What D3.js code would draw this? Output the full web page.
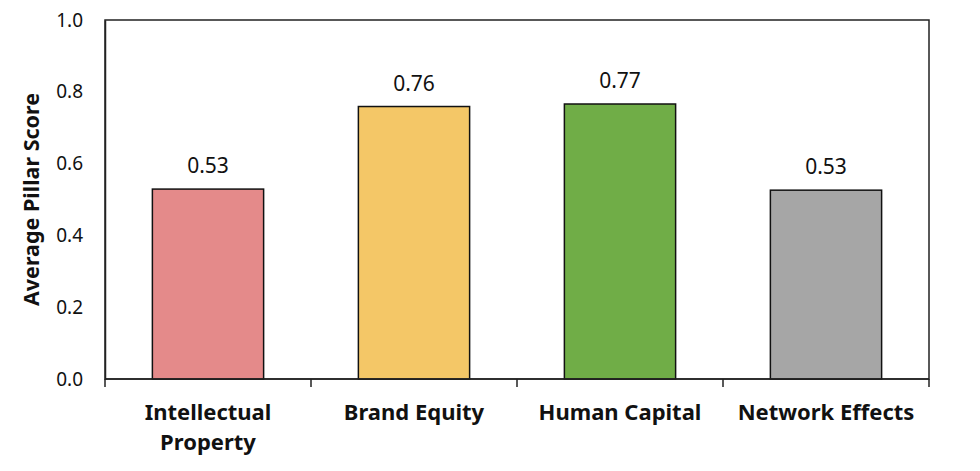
<!DOCTYPE html>
<html><head><meta charset="utf-8">
<script src="https://cdn.jsdelivr.net/npm/d3@7/dist/d3.min.js"></script>
<style>body{margin:0;background:#fff;} text{font-family:"Noto Sans", sans-serif;}</style>
</head><body><svg id="c" width="980" height="471"></svg>
<script>
const categories = ["Intellectual Property", "Brand Equity", "Human Capital", "Network Effects"];
const categoryLines = [["Intellectual", "Property"], ["Brand Equity"], ["Human Capital"], ["Network Effects"]];
const values = [0.529, 0.759, 0.766, 0.526];
const colors = ["#E48A8A", "#F4C767", "#70AD47", "#A6A6A6"];
const yTicks = [0, 0.2, 0.4, 0.6, 0.8, 1.0];
const yTitle = "Average Pillar Score";

const svg = d3.select("#c");
const m = {l:105, r:51, t:20, b:92};
const W = 980, H = 471;
const x = d3.scaleBand().domain(categories).range([m.l, W - m.r]).paddingInner(0.46).paddingOuter(0.23);
const xb = d3.scaleBand().domain(categories).range([m.l, W - m.r]);
const y = d3.scaleLinear().domain([0, 1]).range([H - m.b, m.t]);

// frame
svg.append("rect").attr("x", m.l).attr("y", m.t).attr("width", W - m.r - m.l).attr("height", H - m.b - m.t)
  .attr("fill", "none").attr("stroke", "#222").attr("stroke-width", 1.5);

// bars
svg.selectAll("rect.bar").data(values).join("rect").attr("class", "bar")
  .attr("x", (d, i) => x(categories[i])).attr("width", x.bandwidth())
  .attr("y", d => y(d)).attr("height", d => y(0) - y(d))
  .attr("fill", (d, i) => colors[i]).attr("stroke", "#111").attr("stroke-width", 1.5);

// value labels
svg.selectAll("text.val").data(values).join("text").attr("class", "val")
  .attr("x", (d, i) => x(categories[i]) + x.bandwidth() / 2).attr("y", d => y(d) - 16)
  .attr("text-anchor", "middle").attr("font-size", 21).attr("fill", "#111")
  .text(d => d3.format(".2f")(d));

// y axis
const ya = svg.append("g").attr("transform", `translate(${m.l},0)`)
  .call(d3.axisLeft(y).tickValues(yTicks).tickFormat(d3.format(".1f")).tickSize(0).tickPadding(22));
ya.select(".domain").attr("stroke", "#222").attr("stroke-width", 1.5);
ya.selectAll("text").attr("font-size", 19).attr("fill", "#111").attr("font-family", "'Noto Sans', sans-serif");

// x axis with boundary ticks
const xa = svg.append("g").attr("transform", `translate(0,${y(0)})`);
xa.append("line").attr("x1", m.l).attr("x2", W - m.r).attr("stroke", "#222").attr("stroke-width", 1.5);
const bounds = categories.map(c => xb(c)).concat([xb(categories[categories.length - 1]) + xb.bandwidth()]);
xa.selectAll("line.tk").data(bounds).join("line").attr("class", "tk")
  .attr("x1", d => d).attr("x2", d => d).attr("y1", 0).attr("y2", 8).attr("stroke", "#222").attr("stroke-width", 1.5);
categories.forEach((c, i) => {
  const t = xa.append("text").attr("text-anchor", "middle").attr("font-size", 22).attr("font-weight", "bold").attr("fill", "#111")
    .attr("x", xb(c) + xb.bandwidth() / 2).attr("y", 41);
  categoryLines[i].forEach((ln, j) => t.append("tspan").attr("x", xb(c) + xb.bandwidth() / 2).attr("dy", j ? 30 : 0).text(ln));
});

// y title
svg.append("text").attr("transform", `translate(39,${(m.t + H - m.b) / 2}) rotate(-90)`)
  .attr("text-anchor", "middle").attr("font-size", 21.5).attr("font-weight", "bold").attr("fill", "#111").text(yTitle);
</script></body></html>
